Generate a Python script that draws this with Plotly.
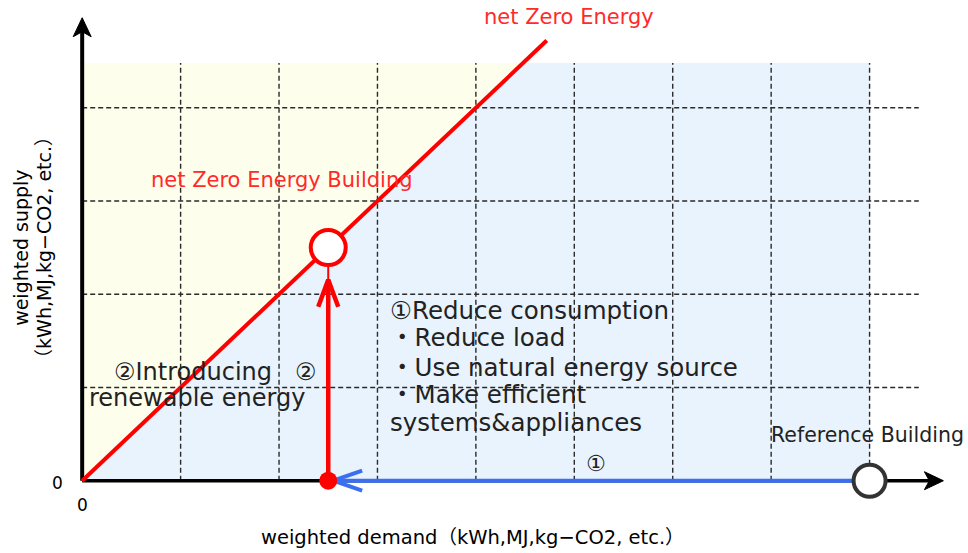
import plotly.graph_objects as go

# canvas / axis ranges (data units: 1 grid cell = 1)
W, H = 968, 553
X_RANGE = [-0.835, 9.0]
Y_RANGE = [-0.775, 5.155]
kx = W / (X_RANGE[1] - X_RANGE[0])   # px per x unit
ky = H / (Y_RANGE[1] - Y_RANGE[0])   # px per y unit


def dx(p):
    return p / kx


def dy(p):
    return p / ky


# data
grid_x = [1, 2, 3, 4, 5, 6, 7, 8]
grid_y = [1, 2, 3, 4]
shade_w = 8
shade_h = 4.48
hgrid_end = 8.5
diag_end = 4.72
x_axis_end = 8.75
y_axis_end = 4.965

nzeb_x, nzeb_y = 2.5, 2.5          # net Zero Energy Building
ref_x, ref_y = 8, 0                # Reference Building
red_tip = 2.155                    # top of red arrow
blue_tip = 2.55                    # tip of blue arrow

list_lines = ["①Reduce consumption", "・Reduce load", "・Use natural energy source",
              "・Make efficient", "systems&appliances"]
list_y = [1.823, 1.533, 1.212, 0.922, 0.622]
list_x = 3.109

renew_lines = ["②Introducing   ②", "renewable energy"]
renew_x = [0.305, 0.05]
renew_y = [1.169, 0.89]

FONT = "DejaVu Sans, Noto Sans CJK JP"
BLUE = "#3a6ff0"
RED = "#ff0000"

fig = go.Figure()

# shaded regions
fig.add_trace(go.Scatter(
    x=[0, 0, shade_h, 0], y=[0, shade_h, shade_h, 0],
    fill="toself", fillcolor="#fefeec", mode="lines", line=dict(width=0),
    hoverinfo="skip"))
fig.add_trace(go.Scatter(
    x=[0, shade_w, shade_w, shade_h, 0], y=[0, 0, shade_h, shade_h, 0],
    fill="toself", fillcolor="#e8f3fd", mode="lines", line=dict(width=0),
    hoverinfo="skip"))

# dashed grid
for gx in grid_x:
    fig.add_trace(go.Scatter(
        x=[gx, gx], y=[0, shade_h], mode="lines",
        line=dict(color="#2a2a2a", width=1.4, dash="5px,3px"), hoverinfo="skip"))
for gy in grid_y:
    fig.add_trace(go.Scatter(
        x=[0, hgrid_end], y=[gy, gy], mode="lines",
        line=dict(color="#2a2a2a", width=1.4, dash="5px,3px"), hoverinfo="skip"))

# axes
fig.add_trace(go.Scatter(x=[0, 0], y=[0, y_axis_end - dy(8)], mode="lines",
                         line=dict(color="black", width=4), hoverinfo="skip"))
fig.add_trace(go.Scatter(x=[0, x_axis_end - dx(8)], y=[0, 0], mode="lines",
                         line=dict(color="black", width=3.5), hoverinfo="skip"))
# filled axis arrow heads
fig.add_trace(go.Scatter(
    x=[0, -dx(9), 0, dx(9), 0],
    y=[y_axis_end, y_axis_end - dy(19), y_axis_end - dy(14), y_axis_end - dy(19), y_axis_end],
    fill="toself", fillcolor="black", mode="lines", line=dict(color="black", width=1),
    hoverinfo="skip"))
fig.add_trace(go.Scatter(
    x=[x_axis_end, x_axis_end - dx(19), x_axis_end - dx(14), x_axis_end - dx(19), x_axis_end],
    y=[0, dy(9), 0, -dy(9), 0],
    fill="toself", fillcolor="black", mode="lines", line=dict(color="black", width=1),
    hoverinfo="skip"))

# net zero energy line
fig.add_trace(go.Scatter(x=[0, diag_end], y=[0, diag_end], mode="lines",
                         line=dict(color=RED, width=4), hoverinfo="skip"))

# blue arrow (reduce consumption)
fig.add_trace(go.Scatter(x=[ref_x, blue_tip], y=[0, 0], mode="lines",
                         line=dict(color=BLUE, width=4), hoverinfo="skip"))
fig.add_trace(go.Scatter(
    x=[blue_tip + dx(29), blue_tip, blue_tip + dx(29)], y=[dy(10), 0, -dy(10)],
    mode="lines", line=dict(color=BLUE, width=4), hoverinfo="skip"))

# red arrow (renewable energy)
fig.add_trace(go.Scatter(x=[nzeb_x, nzeb_x], y=[0, red_tip], mode="lines",
                         line=dict(color=RED, width=4.5), hoverinfo="skip"))
fig.add_trace(go.Scatter(x=[nzeb_x, nzeb_x], y=[red_tip, nzeb_y], mode="lines",
                         line=dict(color=RED, width=2), hoverinfo="skip"))
fig.add_trace(go.Scatter(
    x=[nzeb_x - dx(10), nzeb_x, nzeb_x + dx(10)],
    y=[red_tip - dy(27), red_tip, red_tip - dy(27)],
    mode="lines", line=dict(color=RED, width=4.5), hoverinfo="skip"))

# markers
fig.add_trace(go.Scatter(x=[nzeb_x], y=[0], mode="markers",
                         marker=dict(size=18, color=RED), hoverinfo="skip"))
fig.add_trace(go.Scatter(x=[nzeb_x], y=[nzeb_y], mode="markers",
                         marker=dict(size=35, color="white", line=dict(color=RED, width=4)),
                         hoverinfo="skip"))
fig.add_trace(go.Scatter(x=[ref_x], y=[ref_y], mode="markers",
                         marker=dict(size=32, color="white", line=dict(color="#333333", width=4)),
                         hoverinfo="skip"))

# texts
ann = []
for t, yy in zip(list_lines, list_y):
    ann.append(dict(x=list_x, y=yy, text=t, xanchor="left", yanchor="middle",
                    font=dict(size=24.5, color="#222222", family=FONT)))
for t, xx, yy in zip(renew_lines, renew_x, renew_y):
    ann.append(dict(x=xx, y=yy, text=t, xanchor="left", yanchor="middle",
                    font=dict(size=24, color="#222222", family=FONT)))
ann += [
    dict(x=0.68, y=3.228, text="net Zero Energy Building", xanchor="left", yanchor="middle",
         font=dict(size=21, color="#ff2a2a", family=FONT)),
    dict(x=4.948, y=4.976, text="net Zero Energy", xanchor="center", yanchor="middle",
         font=dict(size=21, color="#ff2a2a", family=FONT)),
    dict(x=7.976, y=0.493, text="Reference Building", xanchor="center", yanchor="middle",
         font=dict(size=20.5, color="#222222", family=FONT)),
    dict(x=5.22, y=0.182, text="①", xanchor="center", yanchor="middle",
         font=dict(size=22, color="#222222", family=FONT)),
    dict(x=-0.254, y=-0.02, text="0", xanchor="center", yanchor="middle",
         font=dict(size=17, color="black", family=FONT)),
    dict(x=0, y=-0.257, text="0", xanchor="center", yanchor="middle",
         font=dict(size=17, color="black", family=FONT)),
    dict(x=3.973, y=-0.611, text="weighted demand（kWh,MJ,kg−CO2, etc.）",
         xanchor="center", yanchor="middle",
         font=dict(size=19.5, color="black", family=FONT)),
    dict(x=-0.63, y=2.499, text="weighted supply", textangle=-90,
         xanchor="center", yanchor="middle",
         font=dict(size=19, color="black", family=FONT)),
    dict(x=-0.396, y=2.499, text="（kWh,MJ,kg−CO2, etc.）", textangle=-90,
         xanchor="center", yanchor="middle",
         font=dict(size=19, color="black", family=FONT)),
]
for a in ann:
    a["showarrow"] = False
    a["xref"] = "x"
    a["yref"] = "y"

fig.update_layout(
    width=W, height=H,
    margin=dict(l=0, r=0, t=0, b=0),
    paper_bgcolor="white", plot_bgcolor="white",
    showlegend=False,
    annotations=ann,
    xaxis=dict(range=X_RANGE, visible=False, fixedrange=True),
    yaxis=dict(range=Y_RANGE, visible=False, fixedrange=True),
)

# page body has a default margin; drop it so the figure sits at the window corner
fig.write_html("out.html", config={"displayModeBar": False},
               post_script="document.body.style.margin='0';")
